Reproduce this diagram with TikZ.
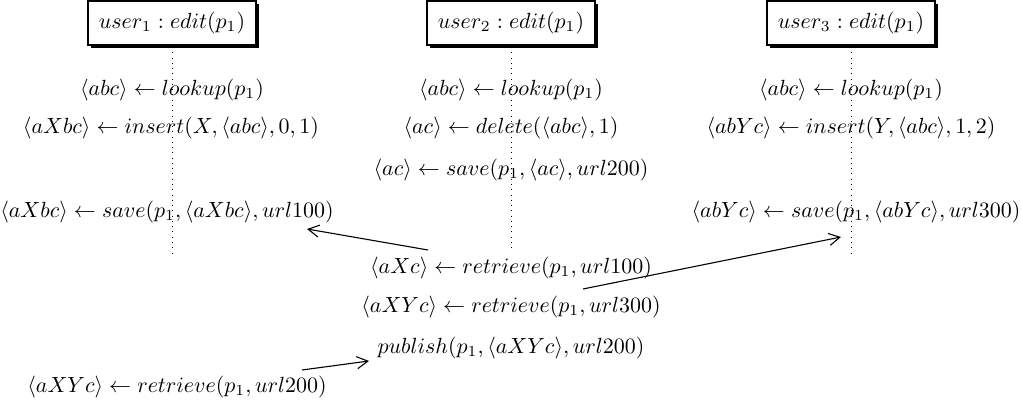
\documentclass[tikz,border=0pt]{standalone}
\usetikzlibrary{shadows,arrows.meta}
\begin{document}
\begin{tikzpicture}[x=0.016cm,y=-0.016cm,
  userbox/.style={draw,fill=white,line width=0.6pt,inner sep=5pt,minimum height=18pt,
    drop shadow={shadow xshift=1.2pt,shadow yshift=-1.2pt,fill=black,opacity=1}},
  lifeline/.style={dotted,line width=0.4pt},
  msg/.style={inner sep=0pt,anchor=center},
  sendarrow/.style={-{Straight Barb[length=5pt,width=5.5pt]},line width=0.5pt}]
\useasboundingbox (0,0) rectangle (1021,405);
% lifelines
\coordinate (l1a) at (172,47); \coordinate (l1b) at (172,257);
\coordinate (l2a) at (511,47); \coordinate (l2b) at (511,250);
\coordinate (l3a) at (851,47); \coordinate (l3b) at (851,257);
\draw[lifeline] (l1a) -- (l1b);
\draw[lifeline] (l2a) -- (l2b);
\draw[lifeline] (l3a) -- (l3b);
% boxes
\node[userbox] (u1) at (172,23) {$user_1 : edit(p_1)$};
\node[userbox] (u2) at (511,23) {$user_2 : edit(p_1)$};
\node[userbox] (u3) at (851,23) {$user_3 : edit(p_1)$};
% user 1
\node[msg] (m11) at (172,90) {$\langle abc\rangle \leftarrow lookup(p_1)$};
\node[msg] (m12) at (171,128) {$\langle aXbc\rangle \leftarrow insert(X, \langle abc\rangle, 0, 1)$};
\node[msg] (m13) at (167,212) {$\langle aXbc\rangle \leftarrow save(p_1, \langle aXbc\rangle, url100)$};
% user 2
\node[msg] (m21) at (511,90) {$\langle abc\rangle \leftarrow lookup(p_1)$};
\node[msg] (m22) at (511,128) {$\langle ac\rangle \leftarrow delete(\langle abc\rangle, 1)$};
\node[msg] (m23) at (511,170) {$\langle ac\rangle \leftarrow save(p_1, \langle ac\rangle, url200)$};
\node[msg] (m24) at (511,268) {$\langle aXc\rangle \leftarrow retrieve(p_1, url100)$};
\node[msg] (m25) at (511,307) {$\langle aXYc\rangle \leftarrow retrieve(p_1, url300)$};
\node[msg] (m26) at (511,348) {$publish(p_1, \langle aXYc\rangle, url200)$};
% user 3
\node[msg] (m31) at (851,90) {$\langle abc\rangle \leftarrow lookup(p_1)$};
\node[msg] (m32) at (851,128) {$\langle abYc\rangle \leftarrow insert(Y, \langle abc\rangle, 1, 2)$};
\node[msg] (m33) at (856,212) {$\langle abYc\rangle \leftarrow save(p_1, \langle abYc\rangle, url300)$};
% extra
\node[msg] (m14) at (177,387) {$\langle aXYc\rangle \leftarrow retrieve(p_1, url200)$};
% arrows
\coordinate (a1s) at (428,250); \coordinate (a1e) at (307,229);
\coordinate (a2s) at (583,289); \coordinate (a2e) at (841,237);
\coordinate (a3s) at (302,370); \coordinate (a3e) at (369,361);
\draw[sendarrow] (a1s) -- (a1e);
\draw[sendarrow] (a2s) -- (a2e);
\draw[sendarrow] (a3s) -- (a3e);
\end{tikzpicture}
\end{document}
